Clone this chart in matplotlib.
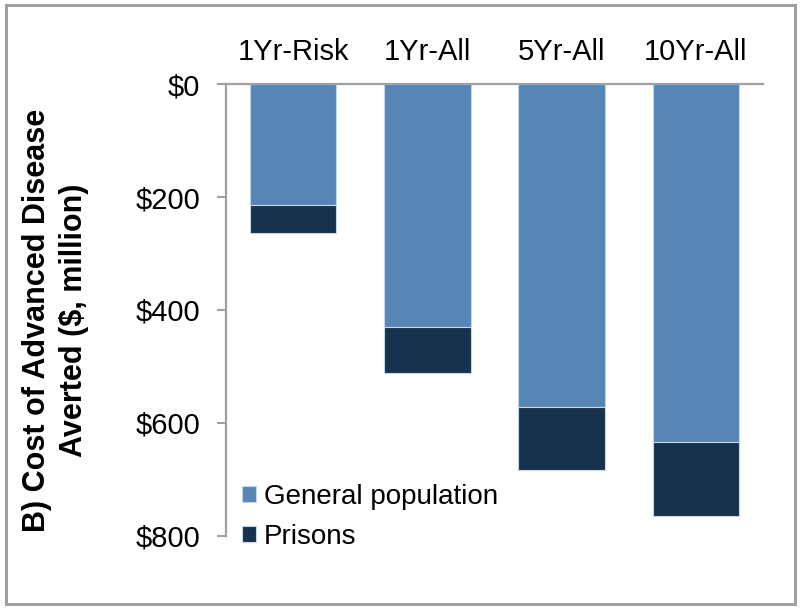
import numpy as np
import matplotlib
matplotlib.use("Agg")
import matplotlib.pyplot as plt
from matplotlib.patches import Rectangle

# ===================== 数据 =====================
categories = ["1Yr-Risk", "1Yr-All", "5Yr-All", "10Yr-All"]
general_population = [215, 431, 571, 634]   # $ million
prisons = [49, 81, 112, 130]                # $ million
y_ticks = [0, 200, 400, 600, 800]
y_tick_labels = ["$0", "$200", "$400", "$600", "$800"]
series_names = ["General population", "Prisons"]

GEN_COLOR = "#5686b6"
PRISON_COLOR = "#17324f"
EDGE_COLOR = "#c5d5e8"
AXIS_GRAY = "#a0a0a0"


def draw_chart():
    plt.rcParams["font.family"] = ["Liberation Sans", "DejaVu Sans"]

    fig = plt.figure(figsize=(8, 6.09), dpi=100)
    ax = fig.add_axes([0.2825, 0.12, 0.6713, 0.742])

    x = np.arange(len(categories))
    width = 0.645

    # 堆叠柱（倒置y轴，柱子向下生长）
    ax.bar(x, general_population, width, color=GEN_COLOR,
           edgecolor=EDGE_COLOR, linewidth=0.8, label=series_names[0])
    ax.bar(x, prisons, width, bottom=general_population, color=PRISON_COLOR,
           edgecolor=EDGE_COLOR, linewidth=0.8, label=series_names[1])

    ax.set_xlim(-0.5, len(categories) - 0.5)
    ax.set_ylim(800, 0)

    # 坐标轴样式
    for side in ["right", "bottom"]:
        ax.spines[side].set_visible(False)
    for side in ["left", "top"]:
        ax.spines[side].set_color(AXIS_GRAY)
        ax.spines[side].set_linewidth(1.6)

    ax.xaxis.tick_top()
    ax.set_xticks(x)
    ax.set_xticklabels(categories, fontsize=21)
    ax.tick_params(axis="x", length=0, pad=13)

    ax.set_yticks(y_ticks)
    ax.set_yticklabels(y_tick_labels, fontsize=21)
    ax.tick_params(axis="y", direction="out", length=6.5, width=1.5,
                   color=AXIS_GRAY, pad=12)

    ax.set_ylabel("B) Cost of Advanced Disease\nAverted ($, million)",
                  fontsize=22, fontweight="bold", linespacing=1.3)
    ax.yaxis.set_label_coords(-0.255, 0.478)

    # 图例
    ax.legend(loc="lower left", bbox_to_anchor=(0.3025, 0.097),
              bbox_transform=fig.transFigure, frameon=False, fontsize=20,
              handlelength=0.5, handleheight=0.5, handletextpad=0.3,
              labelspacing=0.5, borderpad=0, borderaxespad=0)

    # 外框
    fig.patches.append(Rectangle((0.007, 0.008), 0.987, 0.984,
                                 transform=fig.transFigure, fill=False,
                                 edgecolor=AXIS_GRAY, linewidth=2.2))

    fig.savefig("out.png", dpi=100)


if __name__ == "__main__":
    draw_chart()
